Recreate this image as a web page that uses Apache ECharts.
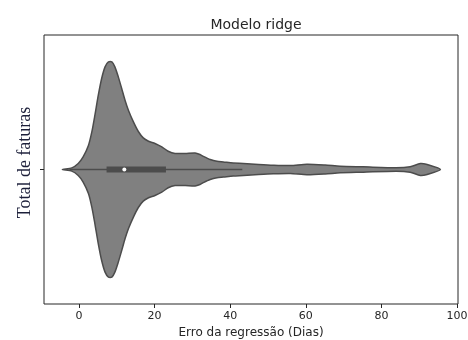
<!DOCTYPE html>
<html>
<head>
<meta charset="utf-8">
<script src="https://cdn.jsdelivr.net/npm/echarts@6/dist/echarts.min.js"></script>
<style>
  html, body { margin: 0; padding: 0; background: #fff; }
  #chart { width: 468px; height: 340px; }
</style>
</head>
<body>
<div id="chart"></div>
<script>
// Violin profile of the regression error: position (days) and relative half-width (peak = 1)
const errDays = [-4.4, -1.9, -0.2, 1.1, 2.5, 3.4, 4.2, 5.1, 6.0, 6.9, 7.8, 8.7, 9.5, 10.4, 11.3, 12.2, 13.1, 14.4, 15.7, 17.0, 18.4, 20.1, 21.9, 23.6, 25.4, 28.1, 30.7, 32.0, 32.9, 34.7, 36.5, 38.2, 40.8, 43.5, 47.5, 51.4, 55.9, 60.3, 65.1, 69.1, 75.2, 83.9, 87.6, 90.3, 92.1, 95.6];
const density = [0, 0.015, 0.056, 0.117, 0.223, 0.349, 0.502, 0.688, 0.846, 0.954, 1.0, 1.0, 0.954, 0.861, 0.753, 0.641, 0.548, 0.442, 0.353, 0.294, 0.263, 0.242, 0.21, 0.17, 0.149, 0.149, 0.154, 0.14, 0.122, 0.093, 0.076, 0.07, 0.06, 0.056, 0.047, 0.04, 0.037, 0.049, 0.042, 0.031, 0.025, 0.016, 0.025, 0.056, 0.046, 0];

// Inner box plot: whisker ends, quartiles, median
const whisker = [-2.5, 43.2];
const quartiles = [7.3, 23.0];
const median = 12.0;

const xTicks = [0, 20, 40, 60, 80, 100];

const chart = echarts.init(document.getElementById('chart'), null, { renderer: 'canvas' });

function renderViolin(params, api) {
  const upper = errDays.map((x, i) => api.coord([x, density[i]]));
  const lower = errDays.map((x, i) => api.coord([x, -density[i]])).reverse();
  const outline = upper.concat(lower.slice(1, -1));
  const w0 = api.coord([whisker[0], 0]);
  const w1 = api.coord([whisker[1], 0]);
  const q0 = api.coord([quartiles[0], 0]);
  const q1 = api.coord([quartiles[1], 0]);
  const m = api.coord([median, 0]);
  return {
    type: 'group',
    children: [
      {
        type: 'polygon',
        shape: { points: outline, smooth: 0.25 },
        style: { fill: '#808080', stroke: '#4c4c4c', lineWidth: 1.5, lineJoin: 'round' }
      },
      {
        type: 'line',
        shape: { x1: w0[0], y1: w0[1], x2: w1[0], y2: w1[1] },
        style: { stroke: '#4c4c4c', lineWidth: 1.5 }
      },
      {
        type: 'line',
        shape: { x1: q0[0], y1: q0[1], x2: q1[0], y2: q1[1] },
        style: { stroke: '#4c4c4c', lineWidth: 6, lineCap: 'butt' }
      },
      {
        type: 'circle',
        shape: { cx: m[0], cy: m[1], r: 2 },
        style: { fill: '#ffffff' }
      }
    ]
  };
}

chart.setOption({
  animation: false,
  backgroundColor: '#ffffff',
  title: {
    text: 'Modelo ridge',
    left: 251,
    top: 13,
    textAlign: 'center',
    textStyle: { fontFamily: 'DejaVu Sans', fontSize: 14, fontWeight: 'normal', color: '#262626' }
  },
  grid: {
    left: 44, top: 35, width: 414, height: 269,
    outerBoundsMode: 'none',
    containLabel: false,
    show: true, borderColor: '#262626', borderWidth: 1, backgroundColor: 'transparent'
  },
  xAxis: {
    type: 'value',
    min: -9.25,
    max: 100.25,
    axisLine: { show: false, onZero: false },
    splitLine: { show: false },
    axisTick: { show: true, customValues: xTicks, length: 4, lineStyle: { color: '#262626', width: 1 } },
    axisLabel: { customValues: xTicks, margin: 7, fontFamily: 'DejaVu Sans', fontSize: 11, color: '#262626' },
    name: 'Erro da regressão (Dias)',
    nameLocation: 'middle',
    nameGap: 22,
    nameTextStyle: { fontFamily: 'DejaVu Sans', fontSize: 12, color: '#262626', verticalAlign: 'top' }
  },
  yAxis: {
    type: 'value',
    min: -1.25,
    max: 1.25,
    axisLine: { show: false, onZero: false },
    splitLine: { show: false },
    axisLabel: { show: false },
    axisTick: { show: true, customValues: [0], length: 4, lineStyle: { color: '#262626', width: 1 } }
  },
  graphic: [
    {
      type: 'text',
      x: 25,
      y: 162.5,
      rotation: Math.PI / 2,
      style: {
        text: 'Total de faturas',
        font: '18px "Liberation Serif"',
        fill: '#1c1f3a',
        textAlign: 'center',
        textVerticalAlign: 'middle'
      }
    }
  ],
  series: [
    {
      type: 'custom',
      coordinateSystem: 'cartesian2d',
      renderItem: renderViolin,
      data: [[median, 0]],
      silent: true
    }
  ]
});
</script>
</body>
</html>
